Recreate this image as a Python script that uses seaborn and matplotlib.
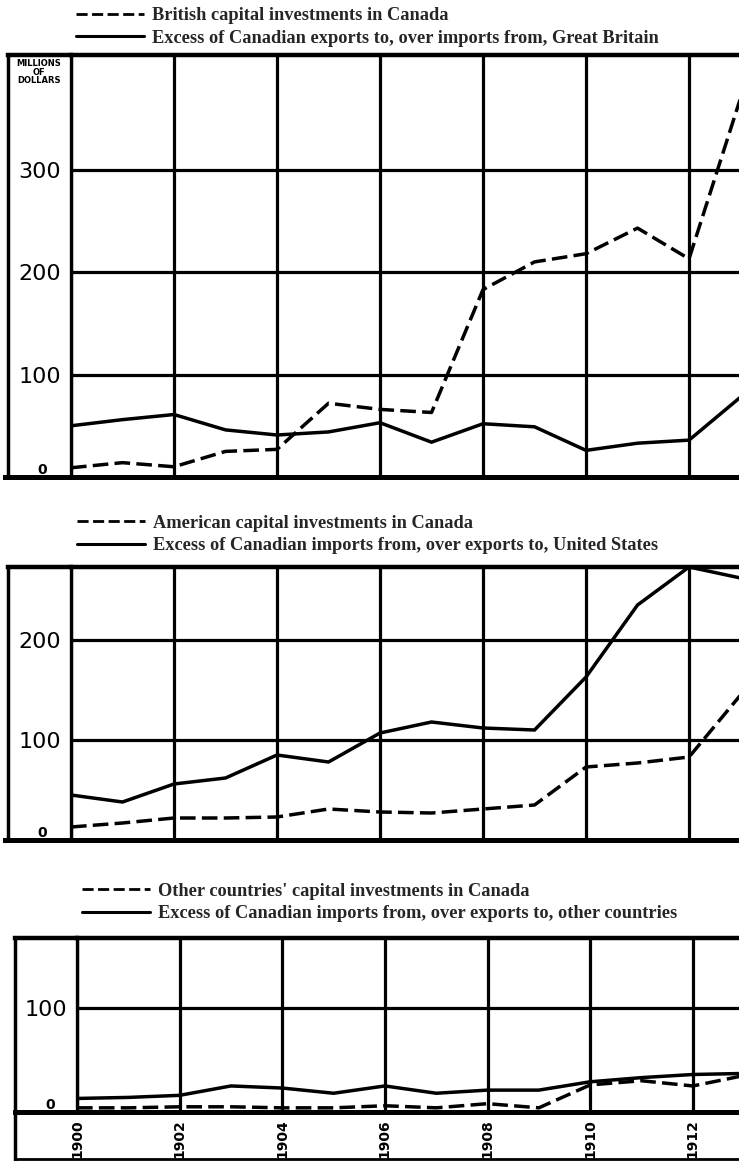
import numpy as np
import pandas as pd
import matplotlib
matplotlib.use("Agg")
import matplotlib.pyplot as plt
from matplotlib.lines import Line2D
import seaborn as sns

# ---------------- data (millions of dollars) ----------------
years = list(range(1900, 1914))

british_investment = [9, 14, 10, 25, 27, 72, 66, 63, 183, 210, 218, 243, 213, 370]
uk_export_excess = [50, 56, 61, 46, 41, 44, 53, 34, 52, 49, 26, 33, 36, 78]

american_investment = [13, 17, 22, 22, 23, 31, 28, 27, 31, 35, 73, 77, 83, 145]
us_import_excess = [45, 38, 56, 62, 85, 78, 107, 118, 112, 110, 163, 235, 273, 262]

other_investment = [4, 4, 5, 5, 4, 4, 6, 4, 8, 4, 26, 30, 25, 35]
other_import_excess = [13, 14, 16, 25, 23, 18, 25, 18, 21, 21, 29, 33, 36, 37]

legend_british = ["British capital investments in Canada",
                  "Excess of Canadian exports to, over imports from, Great Britain"]
legend_american = ["American capital investments in Canada",
                   "Excess of Canadian imports from, over exports to, United States"]
legend_other = ["Other countries' capital investments in Canada",
                "Excess of Canadian imports from, over exports to, other countries"]

year_ticks = [1900, 1902, 1904, 1906, 1908, 1910, 1912]
yticks_1 = [0, 100, 200, 300]
yticks_2 = [0, 100, 200]
yticks_3 = [0, 100]
unit_label = "MILLIONS\nOF\nDOLLARS"

# ---------------- figure ----------------
sns.set_theme(style="white")
plt.rcParams["font.family"] = ["DejaVu Sans"]

W, H = 739, 1161
fig = plt.figure(figsize=(W / 100, H / 100), dpi=100)
fig.patch.set_facecolor("white")

DASH = (0, (4.5, 1.8))
LW = 2.5


def px_axes(x0, x1, ytop, ybot):
    return fig.add_axes([x0 / W, 1 - ybot / H, (x1 - x0) / W, (ybot - ytop) / H])


def fig_line(x0, y0, x1, y1, lw=2.5):
    fig.add_artist(Line2D([x0 / W, x1 / W], [1 - y0 / H, 1 - y1 / H],
                          transform=fig.transFigure, color="black", lw=lw,
                          solid_capstyle="projecting"))


panels = [
    dict(box=(71, 739, 55, 477), ylim=412, yticks=yticks_1,
         dashed=british_investment, solid=uk_export_excess,
         labels=legend_british, leg=(76, 27), xmax=1912.97, zero_x=42),
    dict(box=(71, 739, 567, 840), ylim=273, yticks=yticks_2,
         dashed=american_investment, solid=us_import_excess,
         labels=legend_american, leg=(77, 534.5), xmax=1912.97, zero_x=42),
    dict(box=(77, 739, 938, 1112), ylim=167, yticks=yticks_3,
         dashed=other_investment, solid=other_import_excess,
         labels=legend_other, leg=(82, 902.5), xmax=1912.9, zero_x=50),
]

axes = []
for i, p in enumerate(panels):
    x0, x1, yt, yb = p["box"]
    ax = px_axes(x0, x1, yt, yb)
    axes.append(ax)
    df = pd.DataFrame({"year": years, "dashed": p["dashed"], "solid": p["solid"]})
    sns.lineplot(data=df, x="year", y="dashed", ax=ax, color="black", lw=LW,
                 linestyle=DASH, zorder=3)
    sns.lineplot(data=df, x="year", y="solid", ax=ax, color="black", lw=LW,
                 zorder=3, solid_joinstyle="miter")
    ax.set_xlim(1900, p["xmax"])
    ax.set_ylim(0, p["ylim"])
    ax.set_xticks(year_ticks)
    ax.set_yticks(p["yticks"])
    ax.set_xlabel("")
    ax.set_ylabel("")
    ax.set_axisbelow(True)
    ax.grid(True, color="black", lw=2.3)
    ax.tick_params(length=0)
    ax.set_yticklabels([""] + [str(v) for v in p["yticks"][1:]],
                       fontsize=16, color="black")
    ax.tick_params(axis="y", pad=7)
    for side in ["left", "top", "bottom"]:
        ax.spines[side].set_visible(True)
        ax.spines[side].set_color("black")
    ax.spines["left"].set_linewidth(2.4)
    ax.spines["top"].set_linewidth(3.2)
    ax.spines["bottom"].set_linewidth(3.6)
    ax.spines["right"].set_visible(False)

    # small zero label
    ax.text((p["zero_x"] - x0) / (x1 - x0), 0, "0", transform=ax.get_yaxis_transform(),
            ha="center", va="bottom", fontsize=10, fontweight="bold", color="black")

    if i < 2:
        ax.set_xticklabels([])
    else:
        ax.set_xticklabels([str(y) for y in year_ticks], rotation=90,
                           fontsize=10, fontweight="bold", color="black", va="top")
        ax.tick_params(axis="x", pad=5)

    handles = [Line2D([], [], color="black", lw=2.0, linestyle=(0, (4, 1.6))),
               Line2D([], [], color="black", lw=2.2)]
    lx, ly = p["leg"]
    ax.legend(handles, p["labels"], loc="center left",
              bbox_to_anchor=(lx / W, 1 - ly / H), bbox_transform=fig.transFigure,
              frameon=False, handlelength=3.7, handletextpad=0.45,
              labelspacing=0.3, borderpad=0, borderaxespad=0,
              prop=dict(family="Liberation Serif", weight="bold", size=13.2))

# label-column frames
fig_line(8, 55, 8, 477)
fig_line(8, 55, 71, 55, 3.2)
fig_line(5, 477, 71, 477, 3.6)
fig_line(8, 567, 8, 840)
fig_line(8, 567, 71, 567, 3.2)
fig_line(5, 840, 71, 840, 3.6)
fig_line(15, 938, 15, 1159)
fig_line(15, 938, 77, 938, 3.2)
fig_line(15, 1112, 77, 1112, 3.6)
fig_line(15, 1159, 739, 1159, 2.0)

fig.text(39 / W, 1 - 59 / H, unit_label, ha="center", va="top", fontsize=6,
         fontweight="bold", linespacing=0.95, color="black")

fig.savefig("out.png", dpi=100, facecolor="white")
